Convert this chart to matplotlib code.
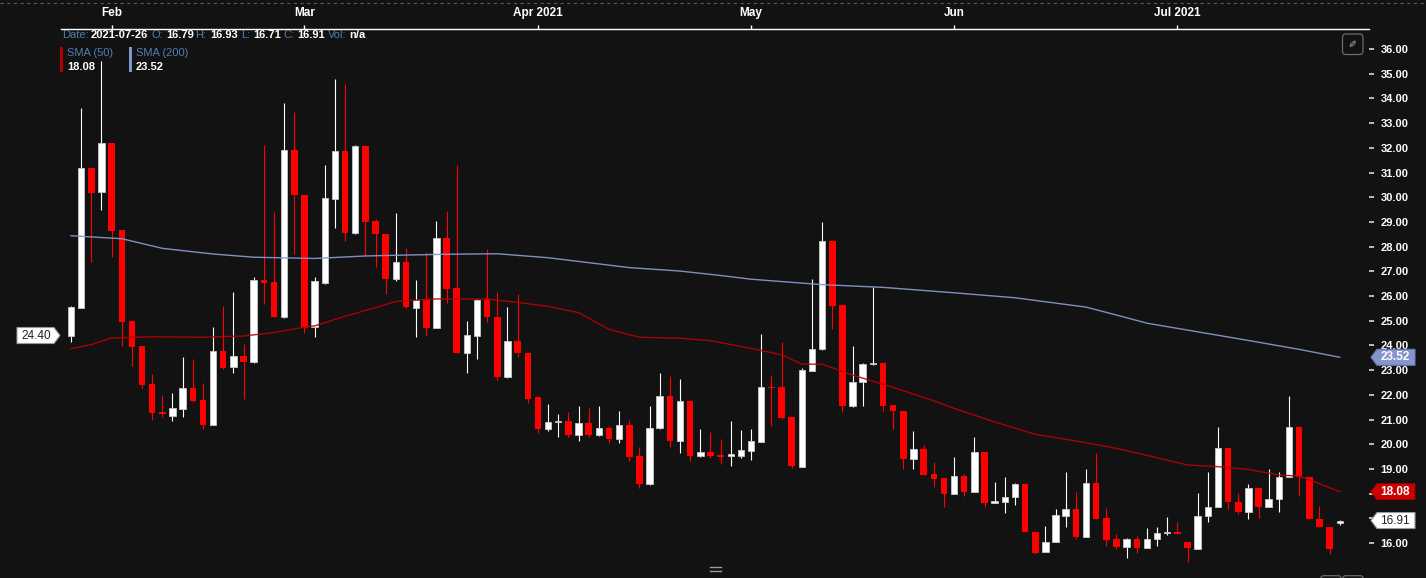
import numpy as np
import pandas as pd
import matplotlib
matplotlib.use('Agg')
import matplotlib.pyplot as plt
import matplotlib.transforms as mtransforms
from matplotlib.patches import Polygon, FancyBboxPatch
from matplotlib.lines import Line2D

plt.rcParams['font.family'] = ['Liberation Sans', 'DejaVu Sans']

W, H = 1426, 578
BG = '#121212'
LBL_BLUE = '#4f7fb3'

# trading days Jan 26 - Jul 26 2021
dates = pd.bdate_range('2021-01-26', '2021-07-26', freq='C',
                       holidays=['2021-02-15', '2021-04-02', '2021-05-31', '2021-07-05'])

opens = [24.40, 25.50, 31.17, 30.22, 32.19, 28.67, 24.99, 23.98, 22.44, 21.32,
         21.15, 21.42, 22.26, 21.79, 20.79, 23.77, 23.11, 23.57, 23.32, 26.65,
         26.58, 25.16, 31.91, 30.09, 24.76, 26.54, 29.94, 31.87, 28.56, 32.07,
         29.04, 28.50, 26.69, 27.36, 25.53, 25.84, 24.72, 28.34, 26.31, 23.71,
         24.39, 25.84, 25.14, 22.73, 24.18, 23.68, 21.90, 20.60, 20.88, 20.94,
         20.37, 20.85, 20.37, 20.64, 20.21, 20.78, 19.52, 18.39, 20.64, 21.95,
         20.14, 21.75, 19.54, 19.67, 19.53, 19.54, 19.54, 19.74, 20.10, 22.30,
         22.30, 21.09, 19.09, 22.98, 23.84, 28.23, 25.64, 21.56, 22.50, 23.23,
         23.30, 21.59, 21.35, 19.40, 19.81, 18.79, 18.65, 17.98, 18.71, 18.08,
         19.67, 17.61, 17.67, 17.85, 18.40, 16.43, 15.62, 16.05, 17.11, 17.36,
         16.26, 18.42, 17.00, 16.15, 15.85, 16.15, 15.78, 16.15, 16.39, 16.46,
         16.05, 15.74, 17.11, 17.44, 19.83, 17.67, 17.27, 18.21, 17.44, 17.80,
         18.66, 20.68, 18.66, 16.96, 16.63, 16.79]
highs = [25.61, 33.60, 31.20, 35.50, 32.20, 28.67, 25.00, 23.98, 22.84, 21.99,
         22.06, 23.54, 23.44, 22.46, 24.73, 25.60, 26.15, 24.04, 26.78, 32.11,
         29.39, 33.80, 33.46, 30.10, 26.76, 31.30, 34.79, 34.58, 32.11, 32.10,
         29.12, 28.52, 29.35, 27.93, 26.65, 27.77, 29.04, 29.44, 31.30, 24.99,
         25.87, 27.89, 26.15, 25.57, 26.07, 23.70, 21.90, 21.61, 21.21, 21.29,
         21.56, 21.45, 21.56, 20.75, 21.34, 20.98, 19.87, 21.54, 22.87, 22.76,
         22.64, 21.76, 20.60, 20.51, 20.20, 20.94, 20.58, 20.60, 24.45, 22.80,
         24.13, 21.10, 23.07, 26.67, 28.98, 28.25, 25.65, 23.99, 23.27, 26.38,
         23.30, 21.59, 21.35, 20.54, 19.98, 19.27, 18.65, 19.47, 18.78, 20.28,
         19.67, 18.46, 18.69, 18.42, 18.42, 16.49, 16.70, 17.36, 18.86, 18.08,
         18.98, 19.63, 17.40, 16.35, 16.19, 16.28, 16.59, 16.63, 17.04, 16.86,
         16.05, 18.04, 18.89, 20.68, 19.83, 18.04, 18.38, 18.21, 18.98, 18.89,
         21.95, 20.74, 18.66, 17.50, 16.63, 16.93]
lows = [24.15, 25.50, 27.36, 29.48, 27.57, 23.98, 23.17, 22.26, 20.98, 21.12,
        20.95, 21.12, 21.72, 20.60, 20.78, 23.03, 22.90, 21.82, 23.30, 25.66,
        25.13, 25.10, 27.69, 24.49, 24.35, 26.50, 28.74, 28.22, 28.50, 27.62,
        27.16, 26.10, 26.60, 25.50, 24.35, 24.39, 24.70, 25.70, 23.68, 22.87,
        23.44, 24.93, 22.60, 22.70, 23.52, 21.68, 20.47, 20.55, 20.28, 20.30,
        20.14, 20.28, 20.35, 20.06, 20.06, 19.33, 18.21, 18.35, 20.60, 19.87,
        19.63, 19.33, 19.50, 19.43, 19.20, 19.13, 19.43, 19.36, 20.10, 20.75,
        21.02, 19.02, 19.09, 22.95, 23.80, 24.65, 21.32, 21.50, 21.56, 23.20,
        21.36, 20.60, 18.98, 18.98, 18.75, 18.28, 17.44, 17.98, 17.92, 18.07,
        17.44, 17.60, 17.20, 17.54, 16.43, 15.54, 15.62, 16.05, 16.64, 16.15,
        16.26, 16.97, 15.89, 15.74, 15.38, 15.60, 15.78, 15.88, 16.32, 16.35,
        15.24, 15.74, 16.84, 17.44, 17.36, 17.16, 16.96, 17.00, 17.44, 17.27,
        18.66, 17.92, 16.96, 16.63, 15.55, 16.71]
closes = [25.55, 31.17, 30.18, 32.19, 28.65, 24.96, 23.95, 22.40, 21.28, 21.21,
          21.45, 22.26, 21.76, 20.78, 23.77, 23.10, 23.57, 23.34, 26.65, 26.54,
          25.16, 31.91, 30.09, 24.72, 26.61, 29.98, 31.87, 28.54, 32.07, 29.01,
          28.50, 26.69, 27.36, 25.57, 25.84, 24.72, 28.34, 26.28, 23.71, 24.42,
          25.84, 25.16, 22.73, 24.18, 23.68, 21.83, 20.60, 20.89, 20.94, 20.37,
          20.85, 20.37, 20.64, 20.21, 20.78, 19.50, 18.39, 20.64, 21.95, 20.14,
          21.75, 19.54, 19.67, 19.54, 19.50, 19.58, 19.76, 20.13, 22.30, 22.26,
          21.07, 19.13, 23.00, 23.84, 28.23, 25.60, 21.56, 22.50, 23.23, 23.30,
          21.56, 21.36, 19.40, 19.81, 18.75, 18.59, 17.98, 18.71, 18.08, 19.67,
          17.61, 17.70, 17.85, 18.40, 16.43, 15.58, 16.05, 17.13, 17.36, 16.26,
          18.42, 16.97, 16.12, 15.85, 16.15, 15.78, 16.15, 16.39, 16.46, 16.35,
          15.78, 17.11, 17.44, 19.83, 17.67, 17.27, 18.21, 17.47, 17.80, 18.66,
          20.68, 18.66, 16.96, 16.63, 15.74, 16.91]

# moving averages at selected bars
sma50_at = [0, 2, 4, 8, 13, 17, 20, 23, 24, 27, 30, 32, 36, 41, 44, 47, 50, 53, 56,
            60, 63, 67, 70, 72, 74, 77, 81, 85, 87, 91, 95, 100, 103, 106, 110,
            113, 116, 119, 121, 122, 125]
sma50 = [23.87, 24.03, 24.30, 24.35, 24.33, 24.38, 24.52, 24.74, 24.79, 25.18,
         25.53, 25.78, 25.88, 25.88, 25.74, 25.58, 25.33, 24.65, 24.33, 24.29,
         24.19, 23.88, 23.62, 23.24, 23.24, 22.80, 22.30, 21.76, 21.45, 20.90,
         20.40, 20.06, 19.83, 19.55, 19.16, 19.09, 18.98, 18.75, 18.71, 18.56, 18.08]
sma200_at = [0, 5, 9, 14, 18, 24, 29, 32, 37, 42, 47, 55, 60, 64, 67, 74, 80, 87,
             93, 100, 103, 106, 111, 116, 121, 125]
sma200 = [28.44, 28.32, 27.93, 27.70, 27.57, 27.52, 27.62, 27.65, 27.69, 27.71,
          27.55, 27.15, 27.01, 26.83, 26.68, 26.46, 26.35, 26.13, 25.93, 25.55,
          25.23, 24.90, 24.55, 24.20, 23.84, 23.52]

month_labels = ['Feb', 'Mar', 'Apr 2021', 'May', 'Jun', 'Jul 2021']
yticks = list(range(16, 37))
hidden_ylabels = [17, 18]   # covered by the price tags

fig = plt.figure(figsize=(W / 100, H / 100), dpi=100, facecolor=BG)
# image pixel coords (origin top-left) -> display
pix = mtransforms.Affine2D().scale(1, -1).translate(0, H)

ax = fig.add_axes([61 / W, 0, (1369 - 61) / W, (578 - 29) / H])
ax.set_facecolor(BG)
ax.set_xlim(-0.985, 127.88)
ax.set_ylim(14.583, 36.81)

x = np.arange(len(opens))
o, hi, lo, c = map(np.array, (opens, highs, lows, closes))
up = c >= o
wick_col = np.where(up, '#ffffff', '#ff0000')
ax.vlines(x, lo, hi, colors=wick_col, linewidth=0.8, zorder=2)
bottom = np.minimum(o, c)
height = np.maximum(np.abs(c - o), 0.07)
ax.bar(x[up], height[up], bottom=bottom[up], width=0.64, color='#ffffff',
       edgecolor='#c8c8c8', linewidth=0.6, zorder=3)
ax.bar(x[~up], height[~up], bottom=bottom[~up], width=0.64, color='#ff0000',
       linewidth=0, zorder=3)

ax.plot(sma50_at, sma50, color='#b80000', lw=1.0, alpha=0.9, zorder=4)
ax.plot(sma200_at, sma200, color='#8596cc', lw=1.0, alpha=0.95, zorder=4)

# month ticks on top
s = pd.Series(x, index=dates)
firsts = s.groupby(dates.to_period('M')).first().values[1:]
ax.xaxis.tick_top()
ax.set_xticks(firsts)
ax.set_xticklabels(month_labels)
ax.tick_params(axis='x', colors='#ffffff', length=3, width=1, pad=4,
               labelsize=8.5, labelcolor='#ffffff')
for t in ax.get_xticklabels():
    t.set_fontweight('bold')

ax.yaxis.tick_right()
ax.set_yticks(yticks)
ax.set_yticklabels(['' if v in hidden_ylabels else f'{v:.2f}' for v in yticks])
ax.tick_params(axis='y', colors='#d8d8d8', length=3.6, width=1.2, pad=4.8,
               labelsize=8, labelcolor='#ffffff')
for t in ax.get_yticklabels():
    t.set_fontweight('bold')

for side in ('left', 'right', 'bottom'):
    ax.spines[side].set_visible(False)
ax.spines['top'].set_color('#ffffff')
ax.spines['top'].set_linewidth(1.0)

# dashed line across top
fig.add_artist(Line2D([0, W], [3, 3], transform=pix, color='#5a5a5a', lw=0.8,
                      dashes=(3, 3)))

# header
def ptext(px, py, s, **kw):
    fig.text(px, py, s, transform=pix, va='center', ha='left', fontsize=8, **kw)

header = [(62, 'Date:', LBL_BLUE, 'normal'), (91, '2021-07-26', 'w', 'bold'),
          (152, 'O:', LBL_BLUE, 'normal'), (166, '16.79', 'w', 'bold'),
          (195, 'H:', LBL_BLUE, 'normal'), (210, '16.93', 'w', 'bold'),
          (241, 'L:', LBL_BLUE, 'normal'), (253, '16.71', 'w', 'bold'),
          (283, 'C:', LBL_BLUE, 'normal'), (297, '16.91', 'w', 'bold'),
          (328, 'Vol:', LBL_BLUE, 'normal'), (349, 'n/a', 'w', 'bold')]
for hx, txt, col, wt in header:
    ptext(hx, 35.5, txt, color=col, fontweight=wt)

# SMA legend
for bx, name, val, col in [(60, 'SMA (50)', '18.08', '#b00000'),
                           (129, 'SMA (200)', '23.52', '#8596cc')]:
    fig.add_artist(FancyBboxPatch((bx, 47), 3, 25, boxstyle='square,pad=0',
                                  transform=pix, fc=col, ec='none'))
    ptext(bx + 7, 52.5, name, color=LBL_BLUE)
    ptext(bx + 7, 67.5, val, color='w', fontweight='bold')

# price tags
tagtr = mtransforms.blended_transform_factory(pix, ax.transData)
hh = 8 / 24.7

def right_tag(v, fc, ec, tc, wt):
    pts = [(1371, v), (1377, v + hh), (1415, v + hh), (1415, v - hh), (1377, v - hh)]
    fig.add_artist(Polygon(pts, closed=True, transform=tagtr, fc=fc, ec=ec, lw=0.8,
                           clip_on=False, zorder=10))
    fig.text(1395, v, f'{v:.2f}', transform=tagtr, ha='center', va='center',
             fontsize=8.5, color=tc, fontweight=wt, zorder=11)

right_tag(sma200[-1], '#8596cc', '#6a7ab0', '#ffffff', 'bold')
right_tag(sma50[-1], '#cc0000', '#990000', '#ffffff', 'bold')
right_tag(closes[-1], '#ffffff', '#999999', '#222222', 'normal')

v0 = opens[0]
pts = [(17, v0 + hh), (54, v0 + hh), (60, v0), (54, v0 - hh), (17, v0 - hh)]
fig.add_artist(Polygon(pts, closed=True, transform=tagtr, fc='#ffffff', ec='#999999',
                       lw=0.8, clip_on=False, zorder=10))
fig.text(36.5, v0, f'{v0:.2f}', transform=tagtr, ha='center', va='center',
         fontsize=8.5, color='#222222', zorder=11)

# expand icon
fig.add_artist(FancyBboxPatch((1342.5, 34), 20.5, 20.5, boxstyle='round,pad=0,rounding_size=3.5',
                              transform=pix, fc='none', ec='#6a6a6a', lw=0.9))
ax.annotate('', xy=(1358, 38.5), xytext=(1347.5, 49), xycoords=pix, textcoords=pix,
            arrowprops=dict(arrowstyle='<->,head_length=0.2,head_width=0.12',
                            color='#7a7a7a', lw=0.8), annotation_clip=False)

# bottom handle and partial buttons
for hy in (567.3, 570.7):
    fig.add_artist(Line2D([710, 721], [hy, hy], transform=pix, color='#9a9a9a', lw=1.0))
for bx in (1320.7, 1342.7):
    fig.add_artist(FancyBboxPatch((bx, 575.7), 20.5, 12, boxstyle='round,pad=0,rounding_size=3',
                                  transform=pix, fc='none', ec='#6a6a6a', lw=0.9))

fig.savefig('out.png', dpi=100, facecolor=BG)
